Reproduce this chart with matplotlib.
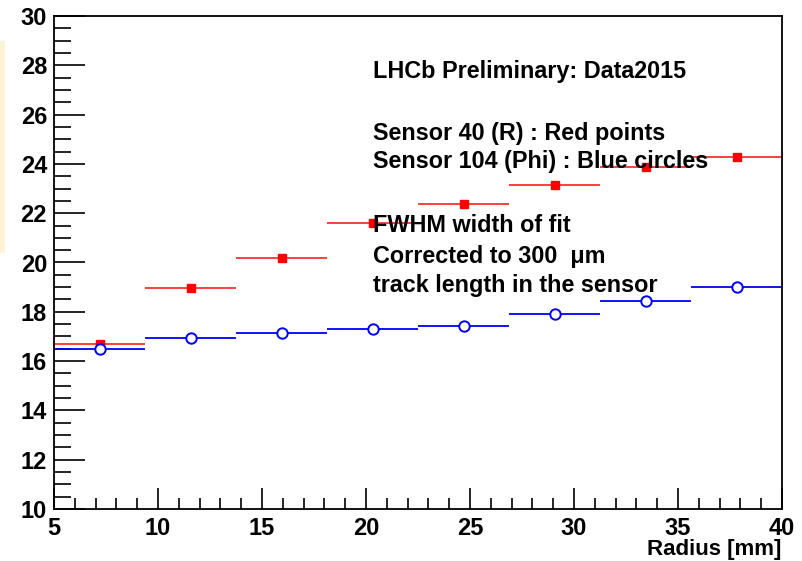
import matplotlib.pyplot as plt
from matplotlib.ticker import MultipleLocator
from matplotlib.patches import Rectangle

plt.rcParams['font.family'] = ['Liberation Sans', 'DejaVu Sans']
plt.rcParams['font.weight'] = 'bold'

# 8 radius bins from 5 to 40 mm
bin_edges = [5.0, 9.375, 13.75, 18.125, 22.5, 26.875, 31.25, 35.625, 40.0]
red_vals = [16.70, 18.97, 20.18, 21.60, 22.36, 23.14, 23.86, 24.30]
red_err = [0.10, 0.08, 0.08, 0.08, 0.08, 0.08, 0.08, 0.08]
blue_vals = [16.50, 16.94, 17.15, 17.31, 17.41, 17.93, 18.42, 19.00]
blue_err = [0.08, 0.06, 0.06, 0.06, 0.06, 0.06, 0.06, 0.06]

centers = [(a + b) / 2 for a, b in zip(bin_edges[:-1], bin_edges[1:])]
half_w = [(b - a) / 2 for a, b in zip(bin_edges[:-1], bin_edges[1:])]

fig = plt.figure(figsize=(8.02, 5.61), dpi=100)
ax = fig.add_axes([54 / 802, 1 - 509 / 561, 728 / 802, 493 / 561])

# faint stat box remnant at the left edge
fig.patches.append(Rectangle((0, 1 - 253 / 561), 5 / 802, 212 / 561,
                             transform=fig.transFigure, color='#fff3d6', lw=0))

ax.errorbar(centers, red_vals, xerr=half_w, yerr=red_err, fmt='s', color='#ff2020',
            ecolor='#ff3030', elinewidth=1.3, ms=5.5, mec='red', mfc='red', capsize=0)
ax.errorbar(centers, blue_vals, xerr=half_w, yerr=blue_err, fmt='o', color='blue',
            ecolor='blue', elinewidth=1.3, ms=7.5, mec='blue', mfc='white', mew=1.4,
            capsize=0)

ax.set_xlim(5, 40)
ax.set_ylim(10, 30)
ax.xaxis.set_major_locator(MultipleLocator(5))
ax.xaxis.set_minor_locator(MultipleLocator(1))
ax.yaxis.set_major_locator(MultipleLocator(2))
ax.yaxis.set_minor_locator(MultipleLocator(0.5))
ax.tick_params(axis='both', which='both', direction='in', width=1.2, colors='black',
               labelsize=17)
ax.tick_params(axis='x', which='major', length=15, pad=6)
ax.tick_params(axis='x', which='minor', length=8)
ax.tick_params(axis='y', which='major', length=22, pad=5)
ax.tick_params(axis='y', which='minor', length=12)
for lab in ax.get_xticklabels() + ax.get_yticklabels():
    lab.set_fontweight('bold')
for s in ax.spines.values():
    s.set_linewidth(1.3)

# x axis title, right aligned under the frame like ROOT
fig.text(781 / 802, 1 - 555 / 561, 'Radius [mm]', fontsize=16, fontweight='bold',
         ha='right', va='baseline')

lines = [
    ('LHCb Preliminary: Data2015', 78),
    ('Sensor 40 (R) : Red points', 140),
    ('Sensor 104 (Phi) : Blue circles', 168),
    ('FWHM width of fit', 232),
    ('Corrected to 300  \u03bcm', 263),
    ('track length in the sensor', 292),
]
for txt, base in lines:
    fig.text(373 / 802, 1 - base / 561, txt, fontsize=16.8, fontweight='bold',
             va='baseline', ha='left')

fig.savefig('out.png', dpi=100)
